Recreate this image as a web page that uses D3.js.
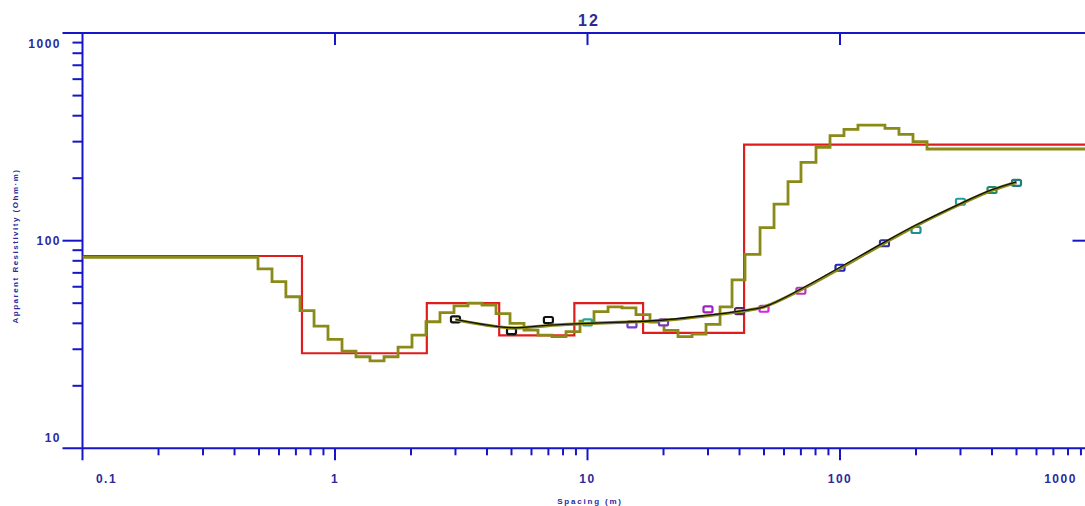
<!DOCTYPE html>
<html>
<head>
<meta charset="utf-8">
<script src="https://cdn.jsdelivr.net/npm/d3@7"></script>
<style>
  html, body { margin: 0; padding: 0; background: #ffffff; }
  svg { display: block; }
  text { font-family: "Liberation Sans", Arial, sans-serif; font-weight: bold; }
</style>
</head>
<body>
<svg id="chart" width="1085" height="506"></svg>
<script>
// ---------------- data ----------------
const chartTitle = "12";
const xTickValues = [0.1, 1, 10, 100, 1000];
const xTickLabels = ["0.1", "1", "10", "100", "1000"];
const yTickValues = [10, 100, 1000];
const yTickLabels = ["10", "100", "1000"];

// measured sounding points (AB/2, apparent resistivity)
const spacing  = [3, 5, 7, 10, 15, 20, 30, 40, 50, 70, 100, 150, 200, 300, 400, 500];
const measured = [41.8, 36.7, 41.5, 40.4, 39.5, 40.4, 46.7, 45.8, 47.0, 57.4, 74.1, 97.2, 112.6, 154, 175.5, 190];
const markerColors = ["#111111", "#111111", "#111111", "#1fa89a", "#7a3cc0", "#7a3cb0",
                      "#a020c0", "#5a2a5a", "#e020e0", "#c030c0", "#2424c0", "#303098",
                      "#1f9090", "#20a0a0", "#208a70", "#208080"];

// calculated curves
const calcBlack = [41.8, 38.1, 39.2, 40.0, 40.7, 41.5, 43.8, 45.8, 48.0, 58.5, 74.5, 98.5, 119, 151, 176, 192];
const calcOlive = [41.6, 38.0, 39.0, 40.0, 40.6, 41.3, 43.5, 45.6, 48.0, 58.0, 73.5, 97.5, 118, 150, 175, 191];

// layered model (red): boundaries (m) and resistivities (Ohm·m)
const modelDepths = [0.74, 2.31, 4.47, 8.87, 16.6, 41.7];
const modelRes    = [84.4, 28.7, 50, 35, 50, 36, 290];

// smooth (multi-layer) model (olive steps)
const smoothDepths = [0.4955, 0.563, 0.639, 0.727, 0.826, 0.938, 1.066, 1.211, 1.376, 1.564, 1.777,
  2.018, 2.293, 2.605, 2.960, 3.363, 3.821, 4.342, 4.933, 5.604, 6.368, 7.235, 8.220, 9.340,
  10.61, 12.06, 13.70, 15.56, 17.68, 20.09, 22.83, 25.94, 29.47, 33.49, 37.36, 42.06, 48.23,
  54.79, 62.25, 70.06, 80.35, 91.30, 103.7, 117.8, 150.7, 171.2, 194.6, 221.1];
const smoothRes = [83.2, 73.1, 63.5, 53.7, 46.0, 38.8, 33.5, 29.4, 27.6, 26.4, 27.6, 30.7,
  35.1, 40.7, 45.0, 48.5, 50.0, 49.0, 44.5, 40.0, 37.1, 35.1, 34.5, 36.5, 41.0,
  45.5, 48.0, 47.5, 44.0, 40.5, 37.0, 34.5, 35.5, 39.5, 48.0, 64.7, 86.0, 115.5,
  150, 192.4, 238.5, 281.8, 320.5, 344, 360.7, 347.6, 325.4, 299.9, 276.5];

const xMinorValues = [];
[0.1, 1, 10, 100].forEach(d => { for (let k = 2; k <= 9; k++) xMinorValues.push(+(d * k).toPrecision(3)); });
const yMinorValues = [];
[10, 100].forEach(d => { for (let k = 2; k <= 9; k++) yMinorValues.push(d * k); });

// ---------------- drawing ----------------
const svg = d3.select("#chart");
const axisColor = "#1616c8";
const labelColor = "#2a2a9c";

const x = d3.scaleLog().domain([0.1, 1000]).range([82.5, 1092.5]);
const y = d3.scaleLog().domain([10, 1000]).range([448.3, 33.1]);

const xL = x.range()[0], xR = x.range()[1];
const yB = y.range()[0], yT = y.range()[1];

svg.append("rect").attr("width", 1085).attr("height", 506).attr("fill", "#fff");

const ax = svg.append("g").attr("stroke", axisColor).attr("stroke-width", 2).attr("fill", "none");
// frame lines (extended by the major ticks at the corners)
ax.append("line").attr("x1", xL - 20).attr("x2", xR).attr("y1", yT).attr("y2", yT);
ax.append("line").attr("x1", xL - 20).attr("x2", xR).attr("y1", yB).attr("y2", yB);
ax.append("line").attr("x1", xL).attr("x2", xL).attr("y1", yT).attr("y2", yB + 12);
ax.append("line").attr("x1", xR).attr("x2", xR).attr("y1", yT).attr("y2", yB);

// bottom minor ticks
ax.selectAll(".xminor").data(xMinorValues).join("line")
  .attr("x1", d => x(d)).attr("x2", d => x(d)).attr("y1", yB).attr("y2", yB + 7);
// bottom major ticks
ax.selectAll(".xmajor").data(xTickValues.slice(1)).join("line")
  .attr("x1", d => x(d)).attr("x2", d => x(d)).attr("y1", yB).attr("y2", yB + 12);
// top major ticks (inward)
ax.selectAll(".xtop").data([1, 10, 100]).join("line")
  .attr("x1", d => x(d)).attr("x2", d => x(d)).attr("y1", yT).attr("y2", yT + 12);
// left minor ticks
ax.selectAll(".yminor").data(yMinorValues).join("line")
  .attr("x1", xL - 10).attr("x2", xL).attr("y1", d => y(d)).attr("y2", d => y(d));
// left major tick at 100
ax.selectAll(".ymajor").data([100]).join("line")
  .attr("x1", xL - 20).attr("x2", xL).attr("y1", d => y(d)).attr("y2", d => y(d));
// right major tick (inward)
ax.selectAll(".yright").data([100]).join("line")
  .attr("x1", xR - 20).attr("x2", xR).attr("y1", d => y(d)).attr("y2", d => y(d));

// x tick labels (edge labels pulled inside the frame)
const xLabelShift = [24, 0, 0, 0, -32];
svg.append("g").selectAll("text").data(xTickValues).join("text")
  .attr("x", (d, i) => x(d) + xLabelShift[i]).attr("y", 482.5)
  .attr("text-anchor", "middle").attr("fill", labelColor)
  .attr("font-size", 12).attr("letter-spacing", 1.5)
  .text((d, i) => xTickLabels[i]);

// y tick labels
const yLabelShift = [-11, 0, 10];
svg.append("g").selectAll("text").data(yTickValues).join("text")
  .attr("x", 61).attr("y", (d, i) => y(d) + yLabelShift[i] + 4.5)
  .attr("text-anchor", "end").attr("fill", labelColor)
  .attr("font-size", 12).attr("letter-spacing", 1.5)
  .text((d, i) => yTickLabels[i]);

// titles
svg.append("text").attr("x", 589).attr("y", 26).attr("text-anchor", "middle")
  .attr("fill", labelColor).attr("font-size", 16).attr("letter-spacing", 2).text(chartTitle);
svg.append("text").attr("x", 590).attr("y", 504).attr("text-anchor", "middle")
  .attr("fill", labelColor).attr("font-size", 8).attr("letter-spacing", 1.8).text("Spacing (m)");
svg.append("text").attr("transform", "translate(18,246) rotate(-90)").attr("text-anchor", "middle")
  .attr("fill", labelColor).attr("font-size", 8).attr("letter-spacing", 1.5)
  .text("Apparent Resistivity (Ohm·m)");

// clip to plotting frame
svg.append("clipPath").attr("id", "plotclip").append("rect")
  .attr("x", xL).attr("y", yT).attr("width", xR - xL).attr("height", yB - yT);
const plot = svg.append("g").attr("clip-path", "url(#plotclip)");

function stepPoints(depths, res) {
  const bounds = [0.1, ...depths, 1000];
  const pts = [];
  res.forEach((r, i) => { pts.push([bounds[i], r]); pts.push([bounds[i + 1], r]); });
  return pts;
}
const lineXY = d3.line().x(d => x(d[0])).y(d => y(d[1]));

plot.append("path").datum(stepPoints(modelDepths, modelRes))
  .attr("d", lineXY).attr("fill", "none").attr("stroke", "#e01c1c").attr("stroke-width", 2.2);
plot.append("path").datum(stepPoints(smoothDepths, smoothRes))
  .attr("d", lineXY).attr("fill", "none").attr("stroke", "#8a8a18").attr("stroke-width", 2.8);

// markers
plot.selectAll(".pt").data(spacing).join("rect")
  .attr("x", d => x(d) - 4.5).attr("y", (d, i) => y(measured[i]) - 3)
  .attr("width", 9).attr("height", 6).attr("rx", 1.5)
  .attr("fill", "#fff").attr("stroke", (d, i) => markerColors[i]).attr("stroke-width", 2.2);

const smoothLine = d3.line().x(d => x(d[0])).y(d => y(d[1])).curve(d3.curveCatmullRom.alpha(0.5));
plot.append("path").datum(spacing.map((s, i) => [s, calcOlive[i]]))
  .attr("d", smoothLine).attr("fill", "none").attr("stroke", "#8a8a18").attr("stroke-width", 3.2);
plot.append("path").datum(spacing.map((s, i) => [s, calcBlack[i]]))
  .attr("d", smoothLine).attr("fill", "none").attr("stroke", "#111").attr("stroke-width", 1.3);
</script>
</body>
</html>
